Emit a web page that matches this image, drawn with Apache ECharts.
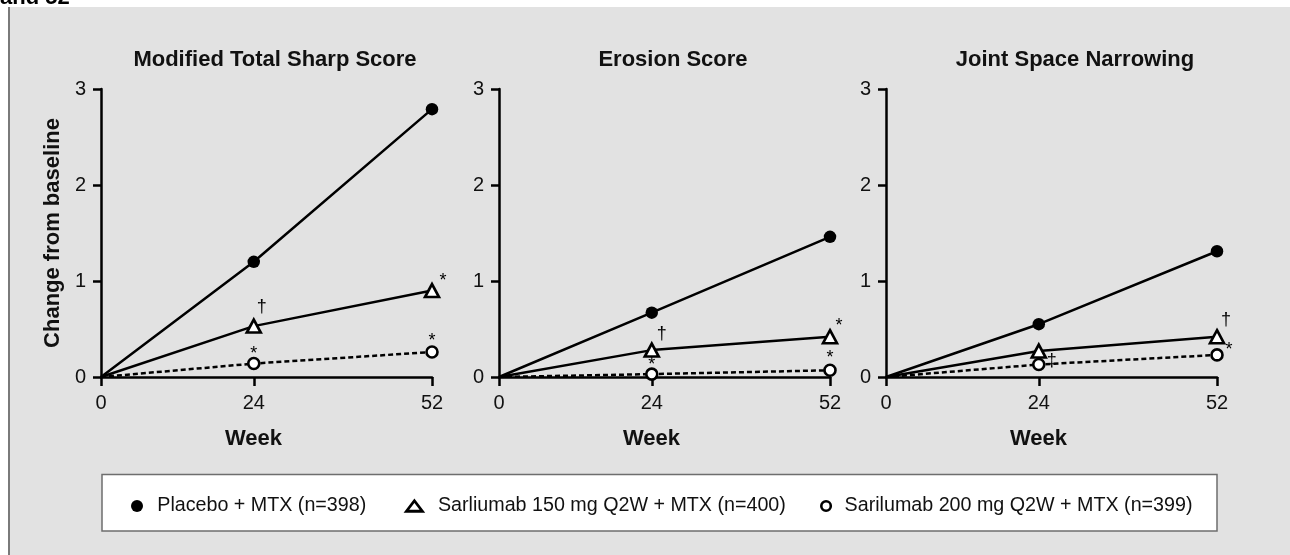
<!DOCTYPE html>
<html>
<head>
<meta charset="utf-8">
<title>Radiographic progression</title>
<script src="https://cdn.jsdelivr.net/npm/echarts@6/dist/echarts.min.js"></script>
<style>
  html, body { margin: 0; padding: 0; background: #ffffff; }
  #chart { width: 1290px; height: 555px; }
</style>
</head>
<body>
<div id="chart"></div>
<script>
// Study weeks on the x axis
const weeks = [0, 24, 52];
const weekTicks = [0, 24, 52];
const scoreTicks = [0, 1, 2, 3];

// Panel titles
const panelTitles = ['Modified Total Sharp Score', 'Erosion Score', 'Joint Space Narrowing'];

// Treatment groups
const groupNames = [
  'Placebo + MTX (n=398)',
  'Sarliumab 150 mg Q2W + MTX (n=400)',
  'Sarilumab 200 mg Q2W + MTX (n=399)'
];

// Mean change from baseline: modified total Sharp score
const mtssPlacebo = [0, 1.20, 2.79];
const mtss150 = [0, 0.53, 0.90];
const mtss200 = [0, 0.14, 0.26];

// Mean change from baseline: erosion score
const erosionPlacebo = [0, 0.67, 1.46];
const erosion150 = [0, 0.28, 0.42];
const erosion200 = [0, 0.03, 0.07];

// Mean change from baseline: joint space narrowing
const jsnPlacebo = [0, 0.55, 1.31];
const jsn150 = [0, 0.27, 0.42];
const jsn200 = [0, 0.13, 0.23];

// Significance markers versus placebo
const mtss150Notes = ['', '\u2020', '*'];
const mtss200Notes = ['', '*', '*'];
const erosion150Notes = ['', '\u2020', '*'];
const erosion200Notes = ['', '*', '*'];
const jsn150Notes = ['', '', '\u2020'];
const jsn200Notes = ['', '\u2021', '*'];

const FONT = "'Liberation Sans', Arial, Helvetica, sans-serif";

// Panel geometry
const gridLeft = [101, 499, 886];
const gridWidth = 331;
const gridTop = 89;
const gridHeight = 288;
const titleCenters = [275, 673, 1075];

// Where each marker sits relative to its symbol [dx, dy]
const noteOffsets = {
  '0-1': [[0, 0], [8, -19], [11, -10]],
  '0-2': [[0, 0], [0, -10], [0, -11]],
  '1-1': [[0, 0], [10, -16], [9, -11]],
  '1-2': [[0, 0], [0, -9], [0, -12]],
  '2-1': [[0, 0], [8, -16], [9, -17]],
  '2-2': [[0, 0], [13, -3], [12, -5]]
};

const panels = [
  { series: [mtssPlacebo, mtss150, mtss200], notes: [null, mtss150Notes, mtss200Notes] },
  { series: [erosionPlacebo, erosion150, erosion200], notes: [null, erosion150Notes, erosion200Notes] },
  { series: [jsnPlacebo, jsn150, jsn200], notes: [null, jsn150Notes, jsn200Notes] }
];

const groupStyles = [
  { symbol: 'circle', symbolSize: 12.5, itemStyle: { color: '#000', borderWidth: 0 }, lineStyle: { color: '#000', width: 2.5, type: 'solid' } },
  { symbol: 'triangle', symbolSize: [14, 13], itemStyle: { color: '#fff', borderColor: '#000', borderWidth: 2.6 }, lineStyle: { color: '#000', width: 2.5, type: 'solid' } },
  { symbol: 'circle', symbolSize: 11, itemStyle: { color: '#fff', borderColor: '#000', borderWidth: 2.6 }, lineStyle: { color: '#000', width: 2.5, type: [5, 3] } }
];

const grids = [], xAxes = [], yAxes = [], series = [];

panels.forEach((panel, p) => {
  grids.push({
    left: gridLeft[p], top: gridTop, width: gridWidth, height: gridHeight,
    containLabel: false, outerBoundsMode: 'none'
  });
  xAxes.push({
    type: 'value', gridIndex: p, min: 0, max: 52, interval: 4,
    name: 'Week', nameLocation: 'middle', nameGap: 51, nameMoveOverlap: false,
    nameTextStyle: { fontFamily: FONT, fontSize: 22, fontWeight: 'bold', color: '#111', padding: [0, 26, 0, 0] },
    axisLine: { show: true, onZero: false, lineStyle: { color: '#000', width: 2.5 } },
    axisTick: { show: true, inside: false, length: 9, customValues: weekTicks, lineStyle: { color: '#000', width: 2.5 } },
    axisLabel: { show: true, margin: 16, customValues: weekTicks, fontFamily: FONT, fontSize: 20, color: '#111' },
    splitLine: { show: false }
  });
  yAxes.push({
    type: 'value', gridIndex: p, min: 0, max: 3, interval: 1,
    name: p === 0 ? 'Change from baseline' : '', nameLocation: 'middle', nameGap: 37, nameMoveOverlap: false,
    nameTextStyle: { fontFamily: FONT, fontSize: 22, fontWeight: 'bold', color: '#111' },
    axisLine: { show: true, onZero: false, lineStyle: { color: '#000', width: 2.5 } },
    axisTick: { show: true, inside: false, length: 8, lineStyle: { color: '#000', width: 2.5 } },
    axisLabel: {
      show: true, margin: 15, fontFamily: FONT, fontSize: 20, color: '#111',
      formatter: (v) => (scoreTicks.indexOf(v) >= 0 ? String(v) : '')
    },
    splitLine: { show: false }
  });

  panel.series.forEach((values, g) => {
    const style = groupStyles[g];
    const notes = panel.notes[g];
    const offs = noteOffsets[p + '-' + g];
    const data = values.map((v, i) => {
      const item = { value: [weeks[i], v] };
      if (weeks[i] === 0) item.symbol = 'none';
      if (notes && notes[i]) {
        item.label = {
          show: true, formatter: notes[i], position: 'inside', offset: offs[i],
          fontFamily: FONT, fontSize: 18, color: '#000'
        };
      }
      return item;
    });
    series.push({
      type: 'line', name: groupNames[g], xAxisIndex: p, yAxisIndex: p,
      data: data,
      symbol: style.symbol, symbolSize: style.symbolSize,
      itemStyle: style.itemStyle, lineStyle: style.lineStyle,
      label: { show: false },
      emphasis: { disabled: true },
      z: 3 + g,
      animation: false
    });
  });
});

// One legend per group so each entry can be placed on its own
const legendText = { fontFamily: FONT, fontSize: 19.7, color: '#111', lineHeight: 22 };
const legends = [
  {
    left: 131, top: 495, padding: 0, itemWidth: 30.5, itemHeight: 12, selectedMode: false,
    textStyle: legendText,
    data: [{ name: groupNames[0], icon: 'circle', itemStyle: { color: '#000', borderWidth: 0 } }]
  },
  {
    left: 405, top: 495, padding: 0, itemWidth: 37, itemHeight: 10.5, selectedMode: false,
    textStyle: legendText,
    data: [{ name: groupNames[1], icon: 'path://M8,0L16,10.5L0,10.5Z', itemStyle: { color: '#fff', borderColor: '#000', borderWidth: 2.8 } }]
  },
  {
    left: 820, top: 495, padding: 0, itemWidth: 27, itemHeight: 9.5, selectedMode: false,
    textStyle: legendText,
    data: [{ name: groupNames[2], icon: 'circle', itemStyle: { color: '#fff', borderColor: '#000', borderWidth: 2.6 } }]
  }
];

const graphics = [
  { type: 'rect', silent: true, z: -10, shape: { x: 8, y: 7, width: 1282, height: 548 }, style: { fill: '#e2e2e2' } },
  { type: 'line', silent: true, z: -9, shape: { x1: 9, y1: 7, x2: 9, y2: 555 }, style: { stroke: '#7a7a7a', lineWidth: 2 } },
  { type: 'text', silent: true, z: 5, style: { text: 'and 52', x: 0, y: 9, font: 'bold 22px ' + FONT, fill: '#000', verticalAlign: 'bottom' } },
  { type: 'rect', silent: true, z: 1, shape: { x: 102, y: 474.5, width: 1115, height: 56.5 }, style: { fill: '#ffffff', stroke: '#6e6e6e', lineWidth: 1.5 } }
];
panelTitles.forEach((t, i) => {
  graphics.push({
    type: 'text', silent: true, z: 5,
    style: { text: t, x: titleCenters[i], y: 59.5, font: 'bold 22px ' + FONT, fill: '#111', align: 'center', verticalAlign: 'middle' }
  });
});

const chart = echarts.init(document.getElementById('chart'), null, { renderer: 'canvas' });
chart.setOption({
  backgroundColor: '#ffffff',
  animation: false,
  grid: grids,
  xAxis: xAxes,
  yAxis: yAxes,
  legend: legends,
  graphic: graphics,
  series: series
});
</script>
</body>
</html>
